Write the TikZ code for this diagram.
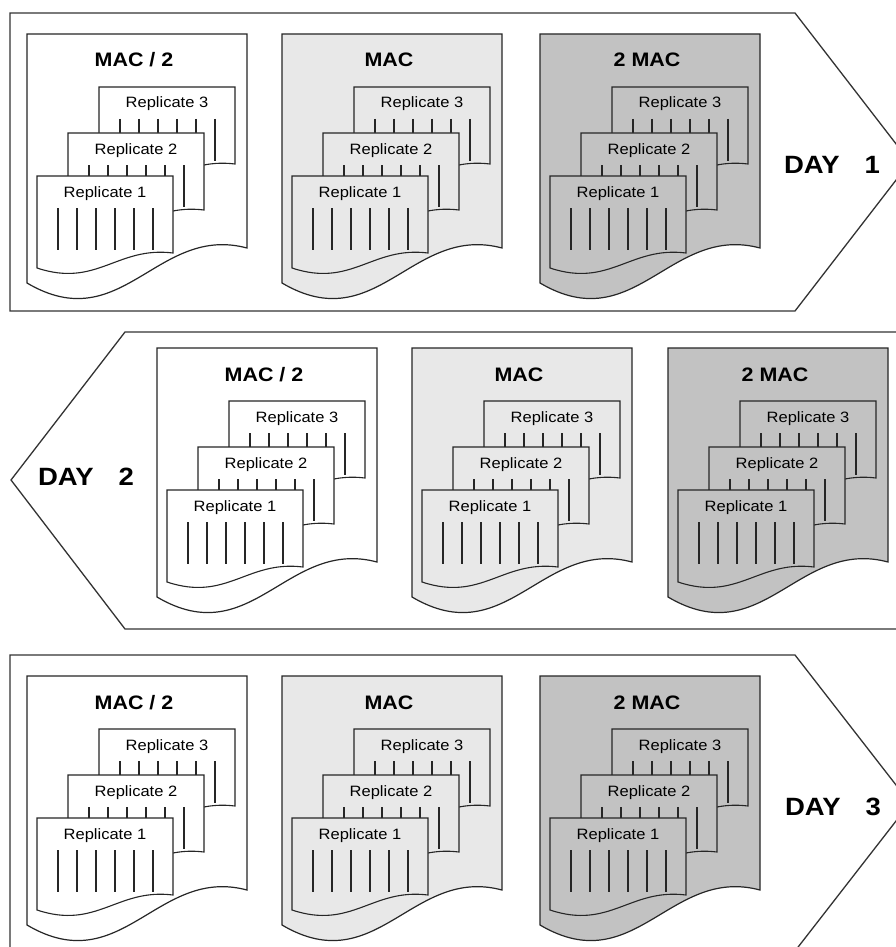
\documentclass[tikz,border=0pt]{standalone}
\usepackage{fontspec}
\usepackage{tikz}
\newfontfamily\labelfont{Liberation Sans}[FakeStretch=1.1]
\definecolor{halfmac}{gray}{1}
\definecolor{onemac}{gray}{0.91}
\definecolor{twomac}{gray}{0.76}

% one replicate sheet: name, x, y, fill, number
\newcommand{\replsheet}[5]{%
  \begin{scope}[shift={(#2,#3)}]
    \draw[sheetline, fill=#4] (0,0) -- (136,0) -- (136,77)
      .. controls (80,70) and (60,112) .. (0,92) -- cycle;
    \foreach \i in {0,...,5}
      \draw[sheetline] (21+19*\i,32) -- (21+19*\i,74);
    \node[repl] (#1) at (68,21) {Replicate #5};
  \end{scope}}

% one dose document with its three replicates: name, x, y, fill, title
\newcommand{\dosegroup}[5]{%
  \begin{scope}[shift={(#2,#3)}]
    \draw[docline, fill=#4] (0,0) -- (220,0) -- (220,214)
      .. controls (130,190) and (95,305) .. (0,249) -- cycle;
    \node[dosetitle] (#1-title) at (107,33) {#5};
    \foreach \k/\dx/\dy in {3/72/53, 2/41/99, 1/10/142}
      {\replsheet{#1-\k}{\dx}{\dy}{#4}{\k}}
  \end{scope}}

\begin{document}
\begin{tikzpicture}[x=1pt, y=-1pt,
    panel/.style={draw=black!80, line width=1.3pt, fill=white},
    docline/.style={draw=black!85, line width=1.2pt},
    sheetline/.style={draw=black!85, line width=1.1pt},
    repl/.style={inner sep=0pt, anchor=base, font=\labelfont\fontsize{15}{18}\selectfont},
    dosetitle/.style={inner sep=0pt, anchor=base, font=\labelfont\fontsize{19.5}{23}\selectfont\bfseries},
    daylabel/.style={inner sep=0pt, anchor=base, font=\labelfont\fontsize{25}{30}\selectfont\bfseries}]
    \useasboundingbox (0,0) rectangle (896,947);
    \clip (0,0) rectangle (896,947);

    % day 1
    \draw[panel] (10,13) -- (795,13) -- (910,162) -- (795,311) -- (10,311) -- cycle;
    \dosegroup{a1}{27}{34}{halfmac}{MAC / 2}
    \dosegroup{a2}{282}{34}{onemac}{MAC}
    \dosegroup{a3}{540}{34}{twomac}{2 MAC}
    \node[daylabel] (day1) at (832,173) {DAY\quad 1};

    % day 2
    \draw[panel] (125,332) -- (920,332) -- (920,629) -- (125,629) -- (11,480) -- cycle;
    \dosegroup{b1}{157}{348}{halfmac}{MAC / 2}
    \dosegroup{b2}{412}{348}{onemac}{MAC}
    \dosegroup{b3}{668}{348}{twomac}{2 MAC}
    \node[daylabel] (day2) at (86,485) {DAY\quad 2};

    % day 3
    \draw[panel] (10,655) -- (795,655) -- (910,803) -- (795,951) -- (10,951) -- cycle;
    \dosegroup{c1}{27}{676}{halfmac}{MAC / 2}
    \dosegroup{c2}{282}{676}{onemac}{MAC}
    \dosegroup{c3}{540}{676}{twomac}{2 MAC}
    \node[daylabel] (day3) at (833,815) {DAY\quad 3};
\end{tikzpicture}
\end{document}
